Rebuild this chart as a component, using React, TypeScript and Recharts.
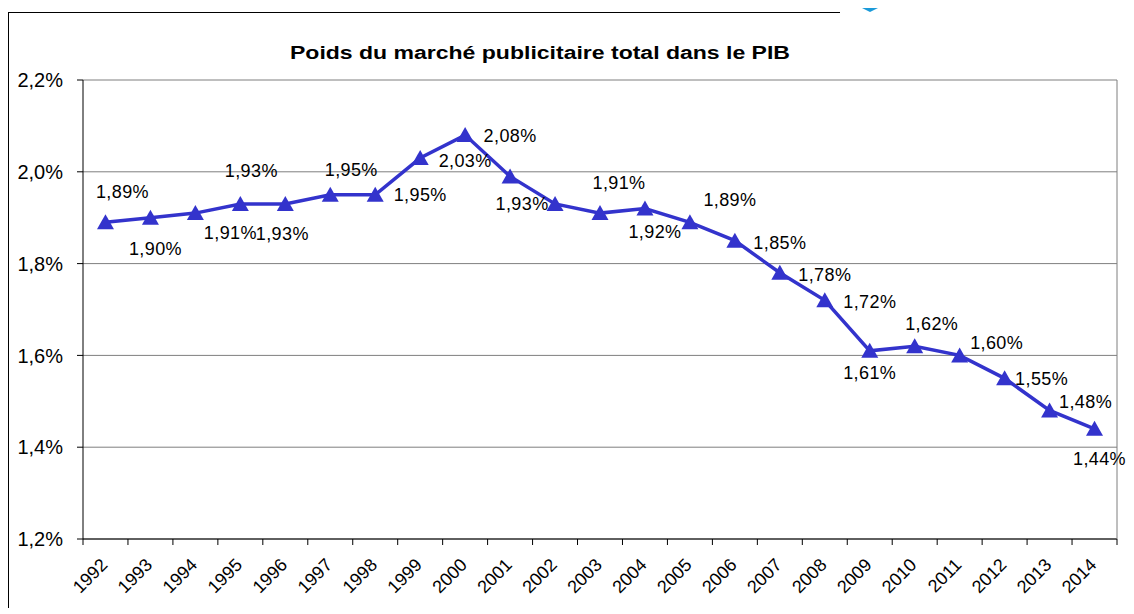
import React from 'react';
import { LineChart, Line, XAxis, YAxis, CartesianGrid, LabelList } from 'recharts';

const years = [
  '1992', '1993', '1994', '1995', '1996', '1997', '1998', '1999', '2000', '2001', '2002', '2003',
  '2004', '2005', '2006', '2007', '2008', '2009', '2010', '2011', '2012', '2013', '2014',
];

const share = [
  1.89, 1.9, 1.91, 1.93, 1.93, 1.95, 1.95, 2.03, 2.08, 1.99, 1.93, 1.91,
  1.92, 1.89, 1.85, 1.78, 1.72, 1.61, 1.62, 1.6, 1.55, 1.48, 1.44,
];

const labels = [
  '1,89%', '1,90%', '1,91%', '1,93%', '1,93%', '1,95%', '1,95%', '2,03%', '2,08%', '', '1,93%', '1,91%',
  '1,92%', '1,89%', '1,85%', '1,78%', '1,72%', '1,61%', '1,62%', '1,60%', '1,55%', '1,48%', '1,44%',
];

const yTicks = [1.2, 1.4, 1.6, 1.8, 2.0, 2.2];

// where each value label sits relative to its point (text centre)
const labelOffsets: [number, number][] = [
  [17, -30], [5, 31], [35, 20], [11, -33], [-3, 30], [21, -25], [45, 0], [45, 3], [45, 1], [0, 0],
  [-33, 0], [19, -30], [10, 23], [40, -22], [45, 2], [45, 2], [45, 2], [0, 22], [17, -22], [37, -12],
  [37, 1], [36, -8], [5, 30],
];

const data = years.map((year, i) => ({ year, share: share[i], label: labels[i] }));

const FONT = '"Liberation Sans", Arial, sans-serif';
const BLUE = '#3333cc';
const PLOT_W = 1034;
const band = PLOT_W / years.length;

const fmtPct = (v: number) => v.toFixed(1).replace('.', ',') + '%';

const XTick = (props: any) => {
  const { x, y, payload, index } = props;
  const last = index === years.length - 1;
  return (
    <g>
      <line x1={x - band / 2} x2={x - band / 2} y1={y} y2={y + 6} stroke="#000" />
      {last && <line x1={x + band / 2} x2={x + band / 2} y1={y} y2={y + 6} stroke="#000" />}
      <text
        x={x + 3}
        y={y + 27}
        textAnchor="end"
        transform={`rotate(-45 ${x + 3} ${y + 27})`}
        fontSize={18}
        fontFamily={FONT}
        fill="#000"
      >
        {payload.value}
      </text>
    </g>
  );
};

const Triangle = (props: any) => {
  const { cx, cy, index } = props;
  if (cx == null || cy == null) return <g key={`t${index}`} />;
  return (
    <path
      key={`t${index}`}
      d={`M${cx},${cy - 8} L${cx + 8.5},${cy + 7} L${cx - 8.5},${cy + 7} Z`}
      fill={BLUE}
    />
  );
};

const ValueLabel = (props: any) => {
  const { x, y, index } = props;
  const text = labels[index];
  if (!text) return null;
  const [dx, dy] = labelOffsets[index];
  return (
    <text
      x={x + dx}
      y={y + dy}
      textAnchor="middle"
      dominantBaseline="central"
      fontSize={18}
      letterSpacing={0.4}
      fontFamily={FONT}
      fill="#000"
    >
      {text}
    </text>
  );
};

export default function App() {
  return (
    <div style={{ position: 'relative', width: 1126, height: 600 }}>
      <LineChart
        width={1126}
        height={600}
        data={data}
        margin={{ top: 72, right: 16, left: 5, bottom: 9 }}
      >
        <CartesianGrid vertical={false} stroke="#7f7f7f" />
        <XAxis
          dataKey="year"
          scale="band"
          interval={0}
          height={60}
          tickLine={false}
          tickSize={0}
          tickMargin={0}
          axisLine={{ stroke: '#000' }}
          tick={<XTick />}
        />
        <YAxis
          domain={[1.2, 2.2]}
          ticks={yTicks}
          width={70}
          tickFormatter={fmtPct}
          tickSize={6}
          tickMargin={14}
          axisLine={{ stroke: '#000' }}
          tickLine={{ stroke: '#000' }}
          tick={{ fontSize: 20, fill: '#000', fontFamily: FONT }}
        />
        <YAxis
          yAxisId="right"
          orientation="right"
          domain={[1.2, 2.2]}
          width={1}
          tick={false}
          tickLine={false}
          axisLine={{ stroke: '#7f7f7f' }}
        />
        <Line
          dataKey="share"
          stroke={BLUE}
          strokeWidth={3.5}
          dot={Triangle}
          activeDot={false}
          isAnimationActive={false}
        >
          <LabelList dataKey="label" content={ValueLabel} />
        </Line>
      </LineChart>
      <div
        style={{
          position: 'absolute',
          left: 838,
          top: -8,
          width: 48,
          height: 12,
          background: '#1a9ad9',
          clipPath: 'polygon(0 0, 100% 0, 50% 100%)',
        }}
      />
      <svg
        width={1134}
        height={614}
        style={{ position: 'absolute', left: -8, top: -8, pointerEvents: 'none' }}
      >
        <line x1={8.5} x2={8.5} y1={12} y2={614} stroke="#000" />
        <line x1={8} x2={840} y1={12.5} y2={12.5} stroke="#000" />
        <text
          x={540}
          y={59}
          textAnchor="middle"
          fontSize={17.5}
          fontWeight="bold"
          fontFamily={FONT}
          textLength={500}
          lengthAdjust="spacingAndGlyphs"
          fill="#000"
        >
          Poids du marché publicitaire total dans le PIB
        </text>
      </svg>
    </div>
  );
}
